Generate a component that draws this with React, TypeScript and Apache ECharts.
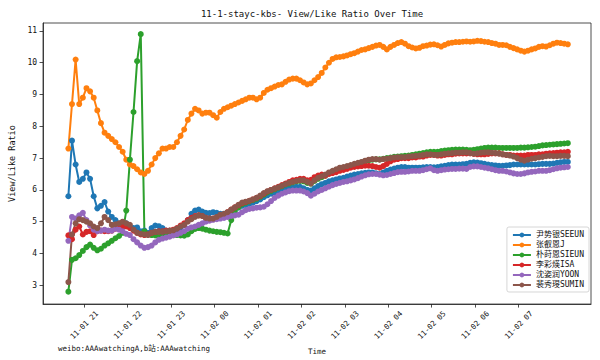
import React, { useEffect, useRef } from "react";
import * as echarts from "echarts";

// x values: minutes after 11-01 00:00, one reading every 5 minutes
const START_MIN = 1238;
const STEP_MIN = 5;

const titleText = "11-1-stayc-kbs- View/Like Ratio Over Time";
const yName = "View/Like Ratio";
const xName = "Time";
const footText = "weibo:AAAwatchingA,b站:AAAwatching";

const seriesNames = ["尹势银SEEUN", "张叡恩J", "朴莳恩SIEUN", "李彩煐ISA", "沈姿润YOON", "裴秀琝SUMIN"];
const seriesColors = ["#1f77b4", "#ff7f0e", "#2ca02c", "#d62728", "#9467bd", "#8c564b"];

const seeun = [
  5.8, 7.55, 6.8, 6.25, 6.35, 6.55, 6.35, 5.8, 5.42, 5.5,
  5.62, 5.32, 5.15, 5.05, 4.95, 4.9, 4.95, 4.85, 4.8, 4.82,
  4.7, 4.72, 4.65, 4.8, 4.88, 4.86, 4.8, 4.72, 4.68, 4.68,
  4.72, 4.8, 4.9, 5.05, 5.25, 5.35, 5.38, 5.32, 5.28, 5.27,
  5.3, 5.28, 5.25, 5.25, 5.28, 5.32, 5.38, 5.45, 5.5, 5.53,
  5.56, 5.6, 5.65, 5.7, 5.77, 5.83, 5.88, 5.92, 5.95, 5.98,
  6.02, 6.05, 6.08, 6.1, 6.1, 6.05, 6.0, 5.98, 6.05, 6.12,
  6.18, 6.22, 6.27, 6.3, 6.33, 6.36, 6.38, 6.42, 6.45, 6.48,
  6.5, 6.52, 6.54, 6.55, 6.55, 6.52, 6.5, 6.55, 6.6, 6.64,
  6.67, 6.7, 6.72, 6.72, 6.7, 6.7, 6.7, 6.7, 6.71, 6.72,
  6.72, 6.71, 6.72, 6.74, 6.76, 6.78, 6.8, 6.8, 6.8, 6.81,
  6.82, 6.85, 6.87, 6.86, 6.84, 6.82, 6.8, 6.78, 6.77, 6.76,
  6.76, 6.77, 6.78, 6.8, 6.8, 6.8, 6.8, 6.8, 6.8, 6.8,
  6.81, 6.82, 6.82, 6.82, 6.83, 6.85, 6.87, 6.88, 6.88,
];

const jae = [
  7.3, 8.7, 10.1, 8.7, 8.9, 9.2, 9.1, 8.9, 8.5, 8.1,
  7.8, 7.7, 7.6, 7.5, 7.35, 7.2, 6.95, 6.8, 6.75, 6.65,
  6.55, 6.5, 6.6, 6.8, 7.0, 7.15, 7.3, 7.3, 7.35, 7.35,
  7.5, 7.7, 7.9, 8.2, 8.4, 8.55, 8.5, 8.4, 8.43, 8.43,
  8.35, 8.27, 8.45, 8.55, 8.6, 8.65, 8.7, 8.75, 8.8, 8.85,
  8.9, 8.9, 8.85, 8.9, 9.05, 9.15, 9.2, 9.25, 9.3, 9.32,
  9.4, 9.47, 9.5, 9.5, 9.45, 9.38, 9.32, 9.35, 9.45, 9.55,
  9.68, 9.85, 10.0, 10.12, 10.17, 10.18, 10.2, 10.23, 10.27, 10.3,
  10.35, 10.4, 10.42, 10.46, 10.5, 10.54, 10.56, 10.5, 10.42, 10.5,
  10.56, 10.62, 10.65, 10.6, 10.52, 10.48, 10.45, 10.47, 10.52, 10.54,
  10.57, 10.58, 10.55, 10.51, 10.56, 10.61, 10.63, 10.65, 10.65, 10.66,
  10.67, 10.66, 10.67, 10.69, 10.68, 10.66, 10.65, 10.62, 10.6, 10.56,
  10.56, 10.55, 10.5, 10.46, 10.42, 10.38, 10.35, 10.38, 10.42, 10.45,
  10.5, 10.52, 10.51, 10.55, 10.6, 10.63, 10.62, 10.6, 10.58,
];

const sieun = [
  2.8, 3.8, 3.85, 3.95, 4.08, 4.2, 4.28, 4.18, 4.1, 4.15,
  4.25, 4.32, 4.4, 4.48, 4.55, 4.65, 5.35, 6.95, 8.45, 10.05,
  10.9, 4.7, 4.6, 4.58, 4.57, 4.57, 4.56, 4.56, 4.57, 4.58,
  4.58, 4.57, 4.56, 4.6, 4.7, 4.77, 4.8, 4.78, 4.75, 4.72,
  4.7, 4.68, 4.67, 4.65, 4.63, 5.05, 5.3, 5.45, 5.55, 5.6,
  5.64, 5.68, 5.72, 5.78, 5.85, 5.92, 5.97, 6.02, 6.07, 6.12,
  6.17, 6.2, 6.24, 6.27, 6.28, 6.27, 6.22, 6.2, 6.28, 6.35,
  6.4, 6.45, 6.52, 6.57, 6.62, 6.67, 6.7, 6.73, 6.76, 6.8,
  6.83, 6.86, 6.9, 6.93, 6.95, 6.96, 6.96, 6.98, 7.0, 7.02,
  7.04, 7.05, 7.06, 7.07, 7.08, 7.1, 7.12, 7.14, 7.16, 7.18,
  7.2, 7.2, 7.2, 7.22, 7.24, 7.25, 7.26, 7.27, 7.27, 7.27,
  7.26, 7.25, 7.26, 7.28, 7.3, 7.32, 7.33, 7.33, 7.33, 7.32,
  7.32, 7.32, 7.32, 7.32, 7.32, 7.33, 7.33, 7.34, 7.35, 7.36,
  7.38, 7.4, 7.41, 7.42, 7.43, 7.44, 7.45, 7.46, 7.47,
];

const isa = [
  4.57, 4.45, 4.75, 4.85, 4.6, 4.68, 4.7, 4.58, 4.7, 4.72,
  4.7, 4.7, 4.72, 4.78, 4.8, 4.85, 4.85, 4.8, 4.72, 4.65,
  4.6, 4.58, 4.6, 4.65, 4.68, 4.7, 4.7, 4.72, 4.72, 4.75,
  4.8, 4.88, 4.95, 5.05, 5.12, 5.18, 5.2, 5.18, 5.12, 5.1,
  5.1, 5.12, 5.18, 5.22, 5.3, 5.38, 5.45, 5.52, 5.58, 5.62,
  5.66, 5.7, 5.75, 5.8, 5.88, 5.95, 6.0, 6.05, 6.1, 6.15,
  6.2, 6.25, 6.3, 6.32, 6.35, 6.35, 6.3, 6.32, 6.4, 6.45,
  6.48, 6.45, 6.5, 6.53, 6.56, 6.6, 6.63, 6.66, 6.7, 6.72,
  6.74, 6.75, 6.76, 6.76, 6.75, 6.72, 6.7, 6.75, 6.82, 6.9,
  6.95, 6.97, 7.0, 7.0, 7.0, 7.02, 7.02, 7.05, 7.05, 7.08,
  7.1, 7.1, 7.08, 7.08, 7.1, 7.12, 7.12, 7.14, 7.15, 7.15,
  7.15, 7.15, 7.13, 7.12, 7.12, 7.12, 7.13, 7.15, 7.15, 7.15,
  7.12, 7.1, 7.1, 7.08, 7.08, 7.08, 7.08, 7.1, 7.1, 7.1,
  7.12, 7.12, 7.14, 7.15, 7.16, 7.17, 7.18, 7.18, 7.2,
];

const yoon = [
  4.4, 5.15, 5.1, 5.2, 5.28, 5.05, 4.88, 4.75, 4.7, 4.72,
  4.75, 4.72, 4.72, 4.78, 4.75, 4.7, 4.62, 4.58, 4.45, 4.35,
  4.25, 4.18, 4.2, 4.25, 4.35, 4.43, 4.47, 4.5, 4.53, 4.57,
  4.6, 4.65, 4.7, 4.78, 4.82, 4.85, 4.9, 4.95, 5.0, 5.03,
  5.06, 5.08, 5.1, 5.12, 5.15, 5.18, 5.2, 5.22, 5.3, 5.36,
  5.4, 5.42, 5.44, 5.45, 5.47, 5.55, 5.65, 5.75, 5.82, 5.88,
  5.92, 5.96, 5.98, 5.98, 5.98, 5.95, 5.9, 5.82, 5.88, 5.95,
  6.0, 6.05, 6.1, 6.15, 6.19, 6.22, 6.25, 6.27, 6.3, 6.33,
  6.37, 6.42, 6.46, 6.49, 6.5, 6.5, 6.48, 6.46, 6.47, 6.5,
  6.53, 6.56, 6.57, 6.57, 6.58, 6.6, 6.6, 6.6, 6.62, 6.65,
  6.68, 6.62, 6.6, 6.62, 6.64, 6.65, 6.66, 6.66, 6.67, 6.67,
  6.66, 6.72, 6.74, 6.74, 6.72, 6.7, 6.68, 6.65, 6.62, 6.6,
  6.6, 6.58, 6.55, 6.52, 6.5, 6.5, 6.52, 6.55, 6.57, 6.58,
  6.6, 6.6, 6.6, 6.62, 6.65, 6.68, 6.7, 6.71, 6.72,
];

const sumin = [
  3.1, 4.6, 4.95, 5.08, 5.05, 5.0, 4.95, 4.85, 4.8, 4.95,
  5.15, 5.05, 4.9, 4.92, 4.95, 5.0, 4.95, 4.9, 4.75, 4.65,
  4.62, 4.6, 4.58, 4.65, 4.68, 4.68, 4.68, 4.7, 4.72, 4.73,
  4.78, 4.85, 4.9, 5.0, 5.08, 5.15, 5.2, 5.18, 5.12, 5.1,
  5.1, 5.15, 5.22, 5.25, 5.3, 5.38, 5.45, 5.53, 5.6, 5.63,
  5.66, 5.7, 5.75, 5.82, 5.9, 5.96, 6.0, 6.04, 6.08, 6.13,
  6.18, 6.22, 6.25, 6.28, 6.3, 6.3, 6.25, 6.2, 6.3, 6.38,
  6.43, 6.48, 6.55, 6.6, 6.65, 6.7, 6.72, 6.75, 6.78, 6.82,
  6.85, 6.88, 6.92, 6.95, 6.97, 6.97, 6.95, 6.97, 6.98, 7.0,
  7.02, 7.03, 7.03, 7.03, 7.05, 7.06, 7.07, 7.08, 7.1, 7.12,
  7.12, 7.1, 7.1, 7.12, 7.14, 7.15, 7.16, 7.17, 7.17, 7.18,
  7.18, 7.16, 7.14, 7.15, 7.17, 7.18, 7.18, 7.17, 7.16, 7.14,
  7.12, 7.1, 7.08, 7.05, 7.0, 6.95, 6.92, 6.95, 6.98, 7.0,
  7.02, 7.04, 7.06, 7.07, 7.06, 7.06, 7.07, 7.07, 7.06,
];

const yTicks = [3, 4, 5, 6, 7, 8, 9, 10, 11];
const xTicks = [1260, 1320, 1380, 1440, 1500, 1560, 1620, 1680, 1740, 1800, 1860];

const MONO = "'DejaVu Sans Mono', 'Noto Sans CJK SC', monospace";

function fmtTime(m: number): string {
  const day = m >= 1440 ? "02" : "01";
  const h = Math.floor(m / 60) % 24;
  return `11-${day} ${String(h).padStart(2, "0")}`;
}

export default function App() {
  const ref = useRef<HTMLDivElement>(null);

  useEffect(() => {
    if (!ref.current) return;
    const chart = echarts.init(ref.current, null, { renderer: "svg" });
    const allValues = [seeun, jae, sieun, isa, yoon, sumin];
    const series = allValues.map((vals, k) => ({
      name: seriesNames[k],
      type: "line",
      data: vals.map((v, i) => [START_MIN + STEP_MIN * i, v]),
      symbol: "circle",
      symbolSize: 6,
      showSymbol: true,
      showAllSymbol: true,
      lineStyle: { width: 2, color: seriesColors[k] },
      itemStyle: { color: seriesColors[k] },
      emphasis: { disabled: true },
      silent: true,
    }));

    chart.setOption({
      animation: false,
      backgroundColor: "#ffffff",
      title: {
        text: titleText,
        left: 312,
        top: 9,
        textAlign: "center",
        padding: 0,
        textStyle: { fontSize: 9, fontWeight: "normal", color: "#111", fontFamily: MONO },
      },
      grid: {
        left: 33,
        right: 9,
        top: 23,
        bottom: 54,
        show: true,
        borderColor: "#222",
        borderWidth: 0.8,
        containLabel: false,
      },
      legend: {
        orient: "vertical",
        right: 11,
        top: 227,
        padding: [4, 5, 3, 5],
        itemGap: 2,
        itemWidth: 18,
        itemHeight: 6,
        borderColor: "#cccccc",
        borderWidth: 0.8,
        borderRadius: 2,
        backgroundColor: "rgba(255,255,255,0.85)",
        textStyle: { fontSize: 8, color: "#111", fontFamily: MONO },
        data: seriesNames,
      },
      xAxis: {
        type: "value",
        min: 1203,
        max: 1960,
        name: xName,
        nameLocation: "middle",
        nameGap: 39,
        nameTextStyle: { fontSize: 7.5, color: "#111", fontFamily: MONO },
        splitLine: { show: false },
        axisLine: { show: true, lineStyle: { color: "#222", width: 0.8 } },
        axisTick: { show: true, length: 3.5, inside: false, customValues: xTicks, lineStyle: { color: "#222", width: 0.8 } },
        axisLabel: {
          customValues: xTicks,
          formatter: (v: number) => fmtTime(v),
          rotate: 45,
          align: "center",
          verticalAlign: "middle",
          margin: 21,
          fontSize: 7.5,
          color: "#111",
          fontFamily: MONO,
        },
      },
      yAxis: {
        type: "value",
        min: 2.41,
        max: 11.25,
        name: yName,
        nameLocation: "middle",
        nameRotate: 90,
        nameGap: 18,
        nameTextStyle: { fontSize: 8.5, color: "#111", fontFamily: MONO },
        splitLine: { show: false },
        axisLine: { show: true, lineStyle: { color: "#222", width: 0.8 } },
        axisTick: { show: true, length: 3.5, inside: false, customValues: yTicks, lineStyle: { color: "#222", width: 0.8 } },
        axisLabel: {
          customValues: yTicks,
          margin: 6,
          fontSize: 8,
          color: "#111",
          fontFamily: MONO,
        },
      },
      graphic: [
        {
          type: "text",
          left: 58,
          top: 345,
          silent: true,
          style: { text: footText, fontSize: 7.5, fill: "#111", fontFamily: MONO },
        },
      ],
      series,
    });

    return () => chart.dispose();
  }, []);

  return (
    <div
      ref={ref}
      style={{ position: "fixed", left: 0, top: 0, width: 600, height: 360, background: "#fff" }}
    />
  );
}
